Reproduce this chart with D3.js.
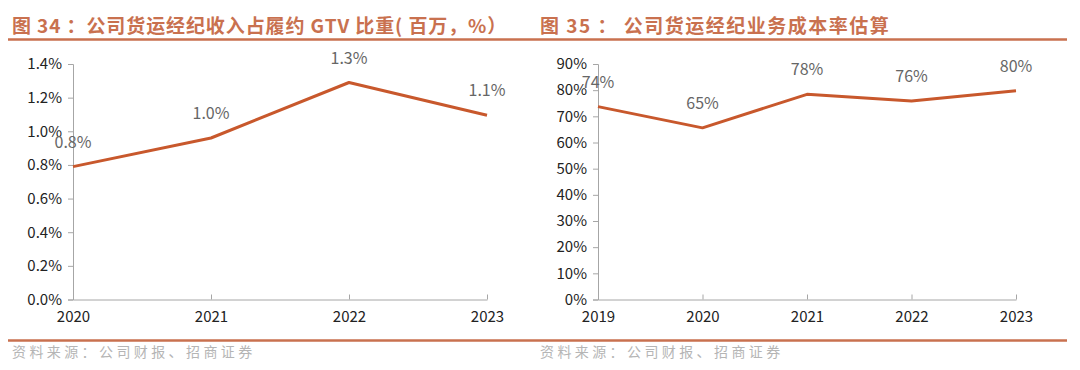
<!DOCTYPE html>
<html>
<head>
<meta charset="utf-8">
<script src="https://cdn.jsdelivr.net/npm/d3@7"></script>
<style>
  body { margin: 0; background: #fff; }
  text { font-family: "Noto Sans CJK SC", "Noto Sans", sans-serif; }
</style>
</head>
<body>
<div id="chart"></div>
<script>
// chart 34: brokerage revenue / GTV
const years34 = ["2020", "2021", "2022", "2023"];
const values34 = [0.79, 0.96, 1.29, 1.095];
const labels34 = ["0.8%", "1.0%", "1.3%", "1.1%"];
const ticks34 = [0, 0.2, 0.4, 0.6, 0.8, 1.0, 1.2, 1.4];

// chart 35: brokerage cost ratio
const years35 = ["2019", "2020", "2021", "2022", "2023"];
const values35 = [73.7, 65.6, 78.4, 75.9, 79.8];
const labels35 = ["74%", "65%", "78%", "76%", "80%"];
const ticks35 = [0, 10, 20, 30, 40, 50, 60, 70, 80, 90];

const titles = [
  "图 34 ：公司货运经纪收入占履约 GTV 比重( 百万，%）",
  "图 35 ： 公司货运经纪业务成本率估算"
];
const source = "资料来源：公司财报、招商证券";

const accent = "#c9714f";
const lineColor = "#c8582c";

const svg = d3.select("#chart")
  .append("svg")
  .attr("width", 1080)
  .attr("height", 370);

// header and footer rules
svg.append("line")
  .attr("x1", 8).attr("x2", 1067)
  .attr("y1", 39.5).attr("y2", 39.5)
  .attr("stroke", accent).attr("stroke-width", 2.5);
svg.append("line")
  .attr("x1", 8).attr("x2", 1067)
  .attr("y1", 340.5).attr("y2", 340.5)
  .attr("stroke", accent).attr("stroke-width", 2.5);

function drawPanel(opts) {
  const { left, right, titleX, years, values, labels, ticks, yMax, fmt } = opts;
  const top = 64, bottom = 299.5;

  svg.append("text")
    .attr("x", titleX).attr("y", 33)
    .attr("fill", accent)
    .style("font-size", "19px")
    .style("font-weight", "bold")
    .style("letter-spacing", opts.titleSpacing)
    .text(opts.title);

  svg.append("text")
    .attr("x", titleX).attr("y", 357)
    .attr("fill", "#b5b5b5")
    .style("font-size", "14px")
    .style("letter-spacing", "3.4px")
    .text(source);

  const x = d3.scalePoint()
    .domain(years)
    .range([left, right]);

  const y = d3.scaleLinear()
    .domain([0, yMax])
    .range([bottom, top]);

  const g = svg.append("g");

  // y axis
  const yAxis = g.append("g")
    .attr("transform", `translate(${left},0)`)
    .call(d3.axisLeft(y).tickValues(ticks).tickFormat(fmt).tickSize(5).tickPadding(6));
  yAxis.select(".domain").attr("stroke", "#a6a6a6");
  yAxis.selectAll(".tick line").attr("stroke", "#a6a6a6");
  yAxis.selectAll(".tick text")
    .attr("fill", "#222")
    .style("font-size", "15px");

  // x axis
  const xAxis = g.append("g")
    .attr("transform", `translate(0,${bottom})`)
    .call(d3.axisBottom(x).tickSizeInner(-5).tickSizeOuter(0).tickPadding(10));
  xAxis.select(".domain").attr("stroke", "#a6a6a6");
  xAxis.selectAll(".tick line").attr("stroke", "#a6a6a6");
  xAxis.selectAll(".tick text")
    .attr("fill", "#222")
    .attr("dy", "0.85em")
    .style("font-size", "15px");

  // line
  g.append("path")
    .datum(values)
    .attr("fill", "none")
    .attr("stroke", lineColor)
    .attr("stroke-width", 3)
    .attr("stroke-linejoin", "round")
    .attr("d", d3.line()
      .x((d, i) => x(years[i]))
      .y(d => y(d))
    );

  // data labels (overlap with axis ticks as in the original)
  g.selectAll(".dlabel")
    .data(values)
    .join("text")
    .attr("class", "dlabel")
    .attr("x", (d, i) => x(years[i]))
    .attr("y", d => y(d) - 19)
    .attr("text-anchor", "middle")
    .attr("fill", "#666")
    .style("font-size", "16px")
    .text((d, i) => labels[i]);
}

drawPanel({
  title: titles[0], titleX: 12, titleSpacing: "0.9px",
  left: 73, right: 487,
  years: years34, values: values34, labels: labels34,
  ticks: ticks34, yMax: 1.4,
  fmt: d => d.toFixed(1) + "%"
});

drawPanel({
  title: titles[1], titleX: 540, titleSpacing: "1.5px",
  left: 598, right: 1016,
  years: years35, values: values35, labels: labels35,
  ticks: ticks35, yMax: 90,
  fmt: d => d + "%"
});
</script>
</body>
</html>
